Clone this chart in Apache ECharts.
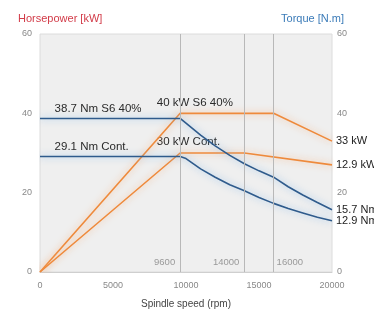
<!DOCTYPE html>
<html>
<head>
<meta charset="utf-8">
<script src="https://cdn.jsdelivr.net/npm/echarts@6/dist/echarts.min.js"></script>
<style>
  html, body { margin: 0; padding: 0; background: #fff; }
  #chart { width: 374px; height: 314px; }
</style>
</head>
<body>
<div id="chart"></div>
<script>
// speed in rpm, power in kW, torque in Nm
const powerS6 = [[0, 0], [9600, 40], [16000, 40], [20000, 33]];
const powerCont = [[0, 0], [9600, 30], [14000, 30], [20000, 27]];
const torqueS6 = [[0, 38.7], [9600, 38.7], [11000, 34.5], [12000, 31.8], [13000, 29.4],
  [14000, 27.3], [15000, 25.5], [16000, 23.9], [17000, 21.5], [18000, 19.4], [19000, 17.5], [20000, 15.7]];
const torqueCont = [[0, 29.1], [9600, 29.1], [10000, 28.6], [11000, 26.0], [12000, 23.9], [13000, 22.0],
  [14000, 20.5], [15000, 18.8], [16000, 17.3], [17000, 16.0], [18000, 14.9], [19000, 13.8], [20000, 12.9]];
const speedMarks = [9600, 14000, 16000];
const endLabels = ["33 kW", "12.9 kW", "15.7 Nm", "12.9 Nm"];

const orange = "#ee8a3c";
const blue = "#2f5b8c";
const font = "Liberation Sans";

function curve(data, color, glow, yIdx, endText) {
  return {
    type: "line",
    data: data,
    yAxisIndex: yIdx,
    showSymbol: false,
    silent: true,
    lineStyle: { color: color, width: 1.6, shadowColor: glow, shadowBlur: 7 },
    endLabel: {
      show: true,
      formatter: endText,
      color: "#222",
      fontFamily: font,
      fontSize: 11,
      distance: 4
    }
  };
}

const chart = echarts.init(document.getElementById("chart"));
chart.setOption({
  animation: false,
  textStyle: { fontFamily: font },
  grid: {
    left: 40, right: 42, top: 34, bottom: 37,
    show: true, backgroundColor: "#efefef", borderColor: "#dcdcdc", borderWidth: 1
  },
  xAxis: {
    type: "value",
    min: 0, max: 20000, interval: 5000,
    name: "Spindle speed (rpm)",
    nameLocation: "middle",
    nameGap: 27,
    nameTextStyle: { color: "#444", fontSize: 10 },
    axisLine: { lineStyle: { color: "#cfcfcf" } },
    axisTick: { show: false },
    splitLine: { show: false },
    axisLabel: { color: "#888", fontSize: 9, margin: 9, formatter: v => String(v) }
  },
  yAxis: [
    {
      type: "value", min: 0, max: 60, interval: 20,
      name: "Horsepower [kW]",
      nameGap: 10,
      nameTextStyle: { color: "#d23b48", fontSize: 11, align: "left", padding: [0, 0, 0, -22] },
      axisLine: { show: false }, axisTick: { show: false }, splitLine: { show: false },
      axisLabel: { color: "#888", fontSize: 9, margin: 8 }
    },
    {
      type: "value", min: 0, max: 60, interval: 20,
      name: "Torque [N.m]",
      nameGap: 10,
      nameTextStyle: { color: "#3b7bb8", fontSize: 11, align: "right", padding: [0, -12, 0, 0] },
      axisLine: { show: false }, axisTick: { show: false }, splitLine: { show: false },
      axisLabel: { color: "#888", fontSize: 9, margin: 5 }
    }
  ],
  series: [
    Object.assign(curve(powerS6, orange, "rgba(250,170,110,0.8)", 0, endLabels[0]), {
      markLine: {
        silent: true,
        symbol: "none",
        label: { show: false },
        lineStyle: { color: "#b8b8b8", width: 1, type: "solid" },
        data: speedMarks.map(v => ({ xAxis: v }))
      }
    }),
    curve(powerCont, orange, "rgba(250,170,110,0.8)", 0, endLabels[1]),
    curve(torqueS6, blue, "rgba(120,180,235,0.8)", 1, endLabels[2]),
    curve(torqueCont, blue, "rgba(120,180,235,0.8)", 1, endLabels[3])
  ]
});

// in-plot annotations
const txt = [];
function note(x, y, text, opts) {
  const p = chart.convertToPixel({ xAxisIndex: 0, yAxisIndex: 0 }, [x, y]);
  txt.push({
    type: "text",
    x: p[0] + (opts.dx || 0), y: p[1] + (opts.dy || 0),
    style: {
      text: text, fill: opts.fill || "#2a2a2a", font: (opts.size || 11.5) + "px " + font,
      textAlign: opts.align || "left", textVerticalAlign: "bottom"
    }
  });
}
note(1000, 38.7, "38.7 Nm S6 40%", { dy: -4 });
note(8000, 40, "40 kW S6 40%", { dy: -5 });
note(1000, 29.1, "29.1 Nm Cont.", { dy: -4 });
note(8000, 30, "30 kW Cont.", { dy: -5 });
note(9600, 0, "9600", { dx: -5, dy: -5, align: "right", fill: "#999", size: 9.5 });
note(14000, 0, "14000", { dx: -5, dy: -5, align: "right", fill: "#999", size: 9.5 });
note(16000, 0, "16000", { dx: 3, dy: -5, align: "left", fill: "#999", size: 9.5 });
chart.setOption({ graphic: txt });
</script>
</body>
</html>
